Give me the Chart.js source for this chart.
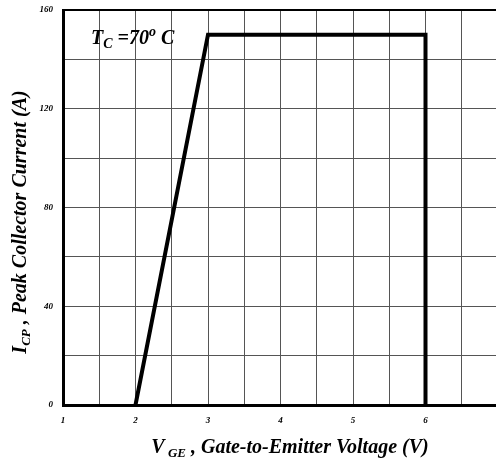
<!DOCTYPE html>
<html>
<head>
<meta charset="utf-8">
<script src="https://cdn.jsdelivr.net/npm/chart.js@4/dist/chart.umd.min.js"></script>
<style>
html,body{margin:0;padding:0;overflow:hidden;background:#fff;}
#wrap{width:510px;height:462px;}
</style>
</head>
<body>
<div id="wrap"><canvas id="c" width="510" height="462"></canvas></div>
<script>
// Data
const curveX = [2, 3, 6, 6];
const curveY = [0, 150, 150, 0];
const xTickLabels = [1, 2, 3, 4, 5, 6, 7];
const yTickLabels = [0, 40, 80, 120, 160];
const annotationText = ['T', 'C', ' =70', 'o', ' C'];
const xTitleParts = ['V', ' GE', ' , Gate-to-Emitter Voltage (V)'];
const yTitleParts = ['I', 'CP', ' , Peak Collector Current (A)'];

const FF = '"Liberation Serif", "Times New Roman", serif';
const tickFont = {family: FF, size: 9, weight: 'bold', style: 'italic'};

function drawRuns(ctx, runs, x, y, align) {
  let total = 0;
  runs.forEach(r => { ctx.font = 'italic bold ' + r.size + 'px ' + FF; r.w = ctx.measureText(r.t).width; total += r.w; });
  let cx = align === 'center' ? x - total / 2 : x;
  ctx.textBaseline = 'alphabetic';
  ctx.textAlign = 'left';
  runs.forEach(r => {
    ctx.font = 'italic bold ' + r.size + 'px ' + FF;
    ctx.fillText(r.t, cx, y + (r.dy || 0));
    cx += r.w;
  });
}

const textPlugin = {
  id: 'texts',
  afterDraw(chart) {
    const ctx = chart.ctx;
    ctx.save();
    ctx.fillStyle = '#000';
    // annotation
    drawRuns(ctx, [
      {t: annotationText[0], size: 20},
      {t: annotationText[1], size: 14, dy: 4},
      {t: annotationText[2], size: 20},
      {t: annotationText[3], size: 14, dy: -8},
      {t: annotationText[4], size: 20}
    ], 91, 44, 'left');
    // x title
    drawRuns(ctx, [
      {t: xTitleParts[0], size: 20},
      {t: xTitleParts[1], size: 13, dy: 4},
      {t: xTitleParts[2], size: 20}
    ], 290, 453, 'center');
    // y title
    ctx.translate(26, 222);
    ctx.rotate(-Math.PI / 2);
    drawRuns(ctx, [
      {t: yTitleParts[0], size: 20},
      {t: yTitleParts[1], size: 13, dy: 4},
      {t: yTitleParts[2], size: 20}
    ], 0, 0, 'center');
    ctx.restore();
  }
};

new Chart(document.getElementById('c'), {
  type: 'line',
  data: {
    datasets: [{
      data: curveX.map((x, i) => ({x: x, y: curveY[i]})),
      borderColor: '#000',
      borderWidth: 4,
      pointRadius: 0,
      tension: 0,
      fill: false,
      borderJoinStyle: 'miter'
    }]
  },
  options: {
    responsive: false,
    animation: false,
    events: [],
    layout: {padding: {top: 10, right: 12, left: 0, bottom: 0}},
    plugins: {legend: {display: false}, tooltip: {enabled: false}},
    scales: {
      x: {
        type: 'linear',
        min: 1, max: 7,
        afterFit(s) { s.height = 57; s.paddingLeft = 0; s.paddingRight = 0; },
        ticks: {
          stepSize: 0.5, autoSkip: false, maxRotation: 0, padding: 10,
          color: '#000', font: tickFont,
          callback: v => xTickLabels.includes(v) ? String(v) : ''
        },
        grid: {color: '#555', lineWidth: 1, drawTicks: false},
        border: {color: '#000', width: 3}
      },
      y: {
        min: 0, max: 160,
        afterFit(s) { s.width = 63; s.paddingTop = 0; s.paddingBottom = 0; },
        ticks: {
          stepSize: 20, autoSkip: false, padding: 10,
          color: '#000', font: tickFont,
          callback: v => yTickLabels.includes(v) ? String(v) : ''
        },
        grid: {
          color: c => c.tick && c.tick.value === 160 ? '#000' : '#555',
          lineWidth: c => c.tick && c.tick.value === 160 ? 2 : 1,
          drawTicks: false
        },
        border: {color: '#000', width: 3}
      }
    }
  },
  plugins: [textPlugin]
});
</script>
</body>
</html>
